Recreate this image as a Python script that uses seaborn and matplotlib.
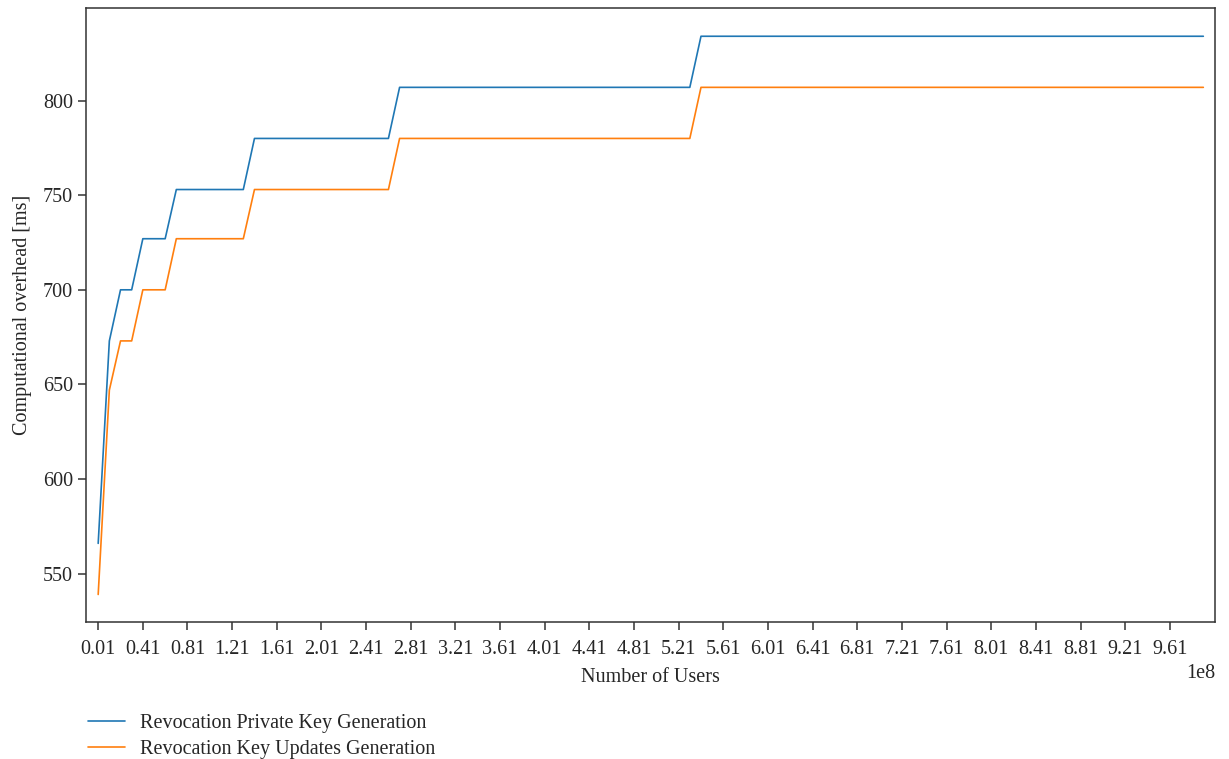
import numpy as np
import pandas as pd
import seaborn as sns
import matplotlib.pyplot as plt

# break points of each step curve (x in users, y in ms)
users_private = [1e6, 11e6, 21e6, 31e6, 41e6, 61e6, 71e6, 131e6, 141e6, 261e6, 271e6, 531e6, 541e6, 991e6]
time_private = [566, 673, 700, 700, 727, 727, 753, 753, 780, 780, 807, 807, 834, 834]
users_updates = [1e6, 11e6, 21e6, 31e6, 41e6, 61e6, 71e6, 131e6, 141e6, 261e6, 271e6, 531e6, 541e6, 991e6]
time_updates = [539, 647, 673, 673, 700, 700, 727, 727, 753, 753, 780, 780, 807, 807]
series_names = ["Revocation Private Key Generation", "Revocation Key Updates Generation"]
x_ticks = np.arange(1e6, 1e9, 4e7)

df = pd.concat([
    pd.DataFrame({"users": users_private, "ms": time_private, "series": series_names[0]}),
    pd.DataFrame({"users": users_updates, "ms": time_updates, "series": series_names[1]}),
])

sns.set_theme(style="ticks")
plt.rcParams["font.family"] = ["Liberation Serif", "DejaVu Serif"]
fs = 14.5

fig, ax = plt.subplots(figsize=(12.29, 7.59), dpi=100)
fig.subplots_adjust(left=0.07, right=0.989, top=0.989, bottom=0.18)
sns.lineplot(data=df, x="users", y="ms", hue="series", hue_order=series_names,
             palette=["#1f77b4", "#ff7f0e"], estimator=None, sort=True,
             linewidth=1.2, ax=ax)

ax.set_xticks(x_ticks)
ax.margins(x=0.011)
ax.set_xlabel("Number of Users", fontsize=fs, labelpad=6)
ax.set_ylabel("Computational overhead [ms]", fontsize=fs, labelpad=8)
ax.tick_params(labelsize=fs, length=6, width=1.1, color="#333333")
ax.tick_params(axis="x", pad=7)
for s in ax.spines.values():
    s.set_color("#333333")
    s.set_linewidth(1.1)
ax.xaxis.get_offset_text().set_fontsize(fs)

ax.legend(title=None, frameon=False, loc="upper left", bbox_to_anchor=(-0.014, -0.12),
          fontsize=fs, handlelength=1.8, handletextpad=0.75, labelspacing=0.35)

plt.savefig("out.png", dpi=100)
